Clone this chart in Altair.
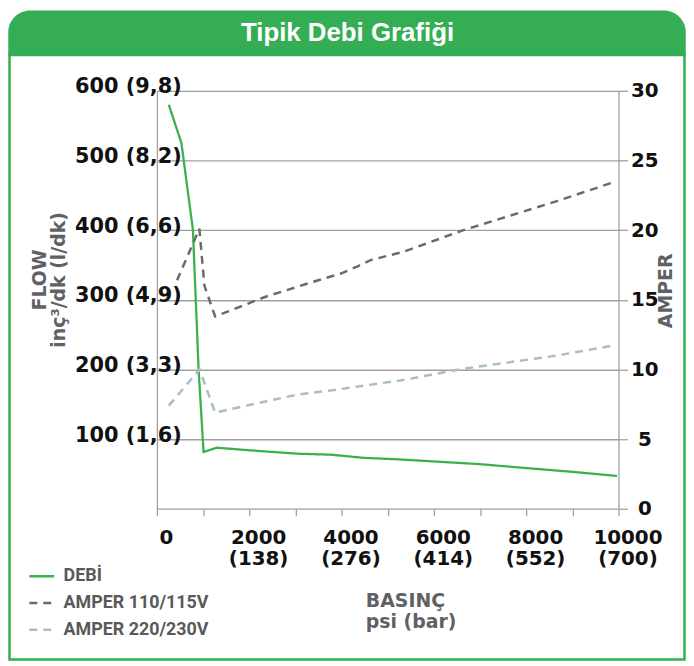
import altair as alt
import pandas as pd

# ---------------- data ----------------
series_names = ["DEBİ", "AMPER 110/115V", "AMPER 220/230V"]

flow_psi = [258, 531, 781, 903, 1011, 1297, 1980, 3050, 3770, 4490, 5200, 7000, 8070, 9000, 9970]
flow_val = [580, 525, 400, 200, 81.5, 87.6, 84, 79, 77.6, 73, 71, 64, 58, 53, 47]

amp110_psi = [437, 920, 1030, 1262, 2340, 3300, 4000, 4350, 4630, 5350, 6640, 8680, 9860]
amp110_val = [16.4, 20.1, 16.0, 13.8, 15.2, 16.2, 16.9, 17.4, 17.85, 18.45, 20.0, 22.1, 23.4]

amp220_psi = [258, 925, 1262, 2000, 3050, 4000, 5350, 6640, 8680, 9860]
amp220_val = [7.4, 10.0, 6.9, 7.45, 8.2, 8.6, 9.25, 10.05, 11.0, 11.7]

x_ticks = [0, 1000, 2000, 3000, 4000, 5000, 6000, 7000, 8000, 9000, 10000]
x_major = [0, 2000, 4000, 6000, 8000, 10000]
x_bar = ["", "(138)", "(276)", "(414)", "(552)", "(700)"]

y_ticks = [100, 200, 300, 400, 500, 600]
y_lpm = ["1,6", "3,3", "4,9", "6,6", "8,2", "9,8"]

amp_ticks = [0, 5, 10, 15, 20, 25, 30]

chart_title = "Tipik Debi Grafiği"

# ---------------- styles ----------------
GREEN = "#35ad55"
LINE_GREEN = "#3bb14b"
DARK = "#6a6a6a"
LIGHT = "#a9bec4"
GRID = "#a0a0a0"
TITLE_GREY = "#5f6164"
FONT = "DejaVu Sans"

flow_df = pd.DataFrame({"psi": flow_psi, "value": flow_val, "series": series_names[0]})
amp_df = pd.concat([
    pd.DataFrame({"psi": amp110_psi, "value": amp110_val, "series": series_names[1]}),
    pd.DataFrame({"psi": amp220_psi, "value": amp220_val, "series": series_names[2]}),
], ignore_index=True)
deco_df = pd.DataFrame({"k": [0]})

left_expr = "".join(f"datum.value == {v} ? '{v} ({l})' : " for v, l in zip(y_ticks, y_lpm)) + "''"
parts = []
for v, b in zip(x_major, x_bar):
    if b:
        parts.append(f"datum.value == {v} ? ['{v}', '{b}']")
    else:
        parts.append(f"datum.value == {v} ? '{v}'")
x_expr = " : ".join(parts) + " : ''"

color_scale = alt.Scale(domain=series_names, range=[LINE_GREEN, DARK, LIGHT])
dash_scale = alt.Scale(domain=series_names, range=[[1, 0], [8, 6], [8, 6]])

legend = alt.Legend(
    title=None, orient="none", legendX=-130, legendY=475, direction="vertical",
    symbolType="stroke", symbolSize=625, symbolStrokeWidth=2.5,
    labelFont="Roboto", labelFontSize=18, labelFontWeight="bold",
    labelColor="#58595b", labelOffset=8, rowPadding=4,
)

x_axis = alt.Axis(
    values=x_ticks, labelExpr=x_expr, grid=False, tickSize=7,
    labelFont=FONT, labelFontSize=20, labelFontWeight="bold", labelColor="#111111",
    labelLineHeight=21, labelPadding=12, labelOffset=9, labelFlush=False,
    labelOverlap=False, labelBaseline="top",
    title=["BASINÇ", "psi (bar)"], titleFont=FONT, titleFontSize=19,
    titleFontWeight="bold", titleColor=TITLE_GREY, titleX=210, titleY=84,
    titleAlign="left", titleBaseline="top", titleLineHeight=21, titleAngle=0,
)

x_enc = alt.X("psi:Q", scale=alt.Scale(domain=[0, 10000], nice=False), axis=x_axis)

flow = alt.Chart(flow_df).mark_line(strokeWidth=2.3).encode(
    x=x_enc,
    y=alt.Y("value:Q", scale=alt.Scale(domain=[0, 600], nice=False),
            axis=alt.Axis(orient="left", values=y_ticks, labelExpr=left_expr,
                          grid=True, ticks=False, labelAlign="left", labelBaseline="middle",
                          labelPadding=83, labelOffset=-4, labelOverlap=False,
                          labelFont=FONT, labelFontSize=21, labelFontWeight="bold",
                          labelColor="#111111",
                          title=["FLOW", "inç³/dk (l/dk)"], titleFont=FONT,
                          titleFontSize=19, titleFontWeight="bold", titleColor=TITLE_GREY,
                          titleAngle=270, titleX=-118, titleY=190, titleAlign="center",
                          titleBaseline="middle", titleLineHeight=19)),
    color=alt.Color("series:N", scale=color_scale, legend=legend),
    strokeDash=alt.StrokeDash("series:N", scale=dash_scale, legend=legend),
)

amps = alt.Chart(amp_df).mark_line(strokeWidth=2.5).encode(
    x=x_enc,
    y=alt.Y("value:Q", scale=alt.Scale(domain=[0, 30], nice=False),
            axis=alt.Axis(orient="right", values=amp_ticks, grid=False, tickSize=9,
                          labelAlign="center", labelBaseline="middle", labelPadding=17,
                          labelFont=FONT, labelFontSize=20, labelFontWeight="bold",
                          labelColor="#111111", labelOverlap=False,
                          title="AMPER", titleFont=FONT, titleFontSize=19,
                          titleFontWeight="bold", titleColor=TITLE_GREY, titleAngle=270,
                          titleX=47, titleY=201, titleAlign="center", titleBaseline="middle")),
    color=alt.Color("series:N", scale=color_scale, legend=legend),
    strokeDash=alt.StrokeDash("series:N", scale=dash_scale, legend=legend),
)

bar = alt.Chart(deco_df).mark_rect(
    color=GREEN, cornerRadiusTopLeft=22, cornerRadiusTopRight=22
).encode(x=alt.value(-149.75), x2=alt.value(532.75), y=alt.value(-81), y2=alt.value(-35))

frame = alt.Chart(deco_df).mark_rect(
    fillOpacity=0, stroke=GREEN, strokeWidth=2.5
).encode(x=alt.value(-148.5), x2=alt.value(531.5), y=alt.value(-36), y2=alt.value(573))

title = alt.Chart(deco_df).mark_text(
    text=chart_title, font="Liberation Sans", fontSize=26, fontWeight="bold",
    color="white", align="center", baseline="alphabetic"
).encode(x=alt.value(192), y=alt.value(-50))

chart = alt.layer(bar, frame, flow, amps, title).resolve_scale(
    y="independent"
).properties(
    width=465, height=421, padding=0
).configure_view(stroke=None).configure_axis(
    domainColor=GRID, tickColor=GRID, gridColor=GRID, domainWidth=1.3,
    gridWidth=1.3, tickWidth=1.3
)

chart.save("out.html", embed_options={"renderer": "svg", "actions": False})
